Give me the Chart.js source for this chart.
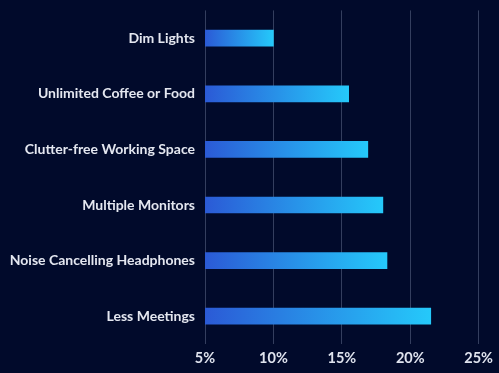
<!DOCTYPE html>
<html>
<head>
<meta charset="utf-8">
<script src="https://cdn.jsdelivr.net/npm/chart.js@4.4.1/dist/chart.umd.min.js"></script>
<style>
  html, body { margin: 0; padding: 0; background: #010a2b; }
  #wrap { width: 499px; height: 373px; }
</style>
</head>
<body>
<div id="wrap"><canvas id="chart"></canvas></div>
<script>
// data
const categories = [
  "Dim Lights",
  "Unlimited Coffee or Food",
  "Clutter-free Working Space",
  "Multiple Monitors",
  "Noise Cancelling Headphones",
  "Less Meetings",
];
const shares = [10.0, 15.5, 16.9, 18.0, 18.3, 21.5];
const tickValues = [5, 10, 15, 20, 25];

// gradient per bar, from its start to its end
function barGradient(ctx) {
  const chart = ctx.chart;
  if (!chart.chartArea || ctx.type !== "data") return "#2a8fe8";
  const x = chart.scales.x;
  const x0 = x.getPixelForValue(x.min);
  const x1 = x.getPixelForValue(ctx.raw);
  const g = chart.ctx.createLinearGradient(x0, 0, x1, 0);
  g.addColorStop(0, "#2b5ad6");
  g.addColorStop(1, "#25c9fa");
  return g;
}

new Chart(document.getElementById("chart"), {
  type: "bar",
  data: {
    labels: categories,
    datasets: [
      {
        data: shares,
        backgroundColor: barGradient,
        borderWidth: 0,
        barThickness: 16,
      },
    ],
  },
  options: {
    indexAxis: "y",
    responsive: true,
    maintainAspectRatio: false,
    animation: false,
    layout: { padding: { top: 3, right: 0, left: 0, bottom: 0 } },
    plugins: {
      legend: { display: false },
      tooltip: { enabled: false },
    },
    scales: {
      x: {
        min: 5,
        max: 25,
        afterBuildTicks: (scale) => {
          scale.ticks = tickValues.map((v) => ({ value: v }));
        },
        afterFit: (scale) => {
          scale.height = 29;
        },
        grid: {
          color: "rgba(150,160,190,0.35)",
          lineWidth: 1,
          drawTicks: true,
          tickLength: 0,
        },
        border: { display: false },
        ticks: {
          color: "#dfe3ee",
          padding: 6,
          font: { family: "Lato", size: 14.5, weight: "bold" },
          callback: (val) => val + "%",
        },
      },
      y: {
        afterFit: (scale) => {
          scale.width = 205;
        },
        grid: { display: false },
        border: { display: false },
        ticks: {
          color: "#e4e7f0",
          padding: 2,
          font: { family: "Lato", size: 14, weight: "bold" },
        },
      },
    },
  },
});
</script>
</body>
</html>
